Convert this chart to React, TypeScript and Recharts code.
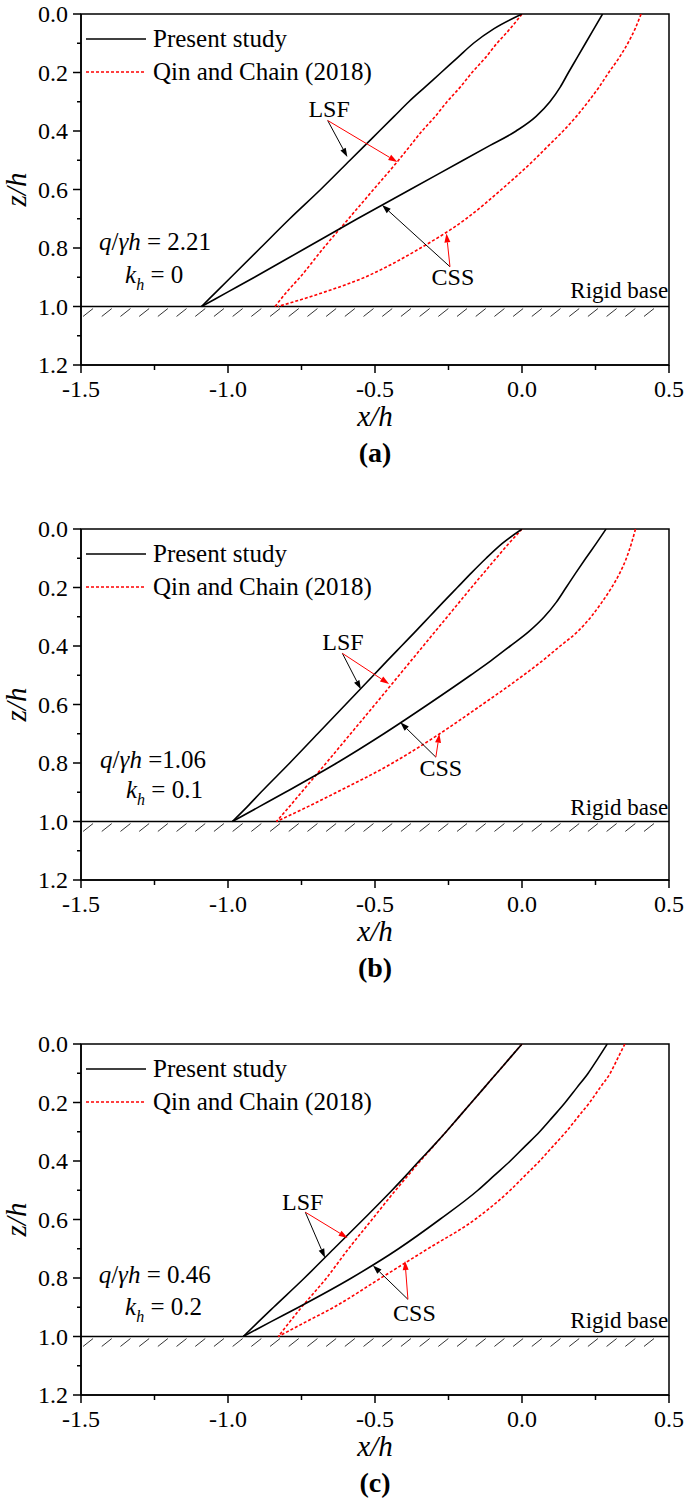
import React from 'react';
import { LineChart, Line, XAxis, YAxis, ReferenceLine, ReferenceDot, ReferenceArea, Legend } from 'recharts';

const SERIF = '"Liberation Serif", "Times New Roman", Times, serif';
const RED = '#ff0000';
const serifStyle = { fontFamily: SERIF };

// depth below the top of the wall (z/h), shared by every profile
const depth = [0, 0.05, 0.1, 0.15, 0.2, 0.25, 0.3, 0.35, 0.4, 0.45, 0.5, 0.6, 0.7, 0.8, 0.9, 0.95, 1.0];

// x/h of each failure surface, panel (a) kh = 0
const presentLsfA = [0, -0.095, -0.165, -0.22, -0.275, -0.33, -0.385, -0.435, -0.485, -0.535, -0.585, -0.685, -0.79, -0.89, -0.99, -1.04, -1.09];
const presentCssA = [0.274, 0.245, 0.216, 0.187, 0.158, 0.13, 0.095, 0.048, -0.02, -0.11, -0.2, -0.38, -0.56, -0.735, -0.91, -1.0, -1.09];
const qinLsfA = [0, -0.04, -0.085, -0.125, -0.17, -0.21, -0.255, -0.295, -0.34, -0.38, -0.42, -0.505, -0.59, -0.675, -0.755, -0.8, -0.84];
const qinCssA = [0.405, 0.385, 0.36, 0.33, 0.295, 0.262, 0.225, 0.185, 0.14, 0.09, 0.04, -0.07, -0.19, -0.345, -0.535, -0.67, -0.83];

// panel (b) kh = 0.1
const presentLsfB = [0, -0.068, -0.122, -0.172, -0.22, -0.268, -0.315, -0.362, -0.41, -0.458, -0.505, -0.6, -0.695, -0.79, -0.888, -0.935, -0.985];
const presentCssB = [0.286, 0.252, 0.217, 0.183, 0.15, 0.117, 0.076, 0.024, -0.04, -0.105, -0.175, -0.32, -0.47, -0.63, -0.805, -0.895, -0.985];
const qinLsfB = [0, -0.045, -0.088, -0.13, -0.172, -0.213, -0.254, -0.295, -0.336, -0.377, -0.418, -0.5, -0.583, -0.666, -0.75, -0.792, -0.835];
const qinCssB = [0.386, 0.372, 0.355, 0.333, 0.305, 0.272, 0.235, 0.19, 0.13, 0.07, 0.005, -0.135, -0.28, -0.44, -0.63, -0.73, -0.835];

// panel (c) kh = 0.2
const presentLsfC = [0, -0.043, -0.086, -0.129, -0.172, -0.215, -0.258, -0.303, -0.35, -0.395, -0.442, -0.54, -0.64, -0.74, -0.845, -0.897, -0.948];
const presentCssC = [0.29, 0.258, 0.225, 0.186, 0.147, 0.104, 0.06, 0.01, -0.04, -0.095, -0.15, -0.28, -0.42, -0.58, -0.76, -0.855, -0.948];
const qinLsfC = [0, -0.043, -0.086, -0.129, -0.172, -0.215, -0.258, -0.302, -0.346, -0.388, -0.43, -0.51, -0.59, -0.665, -0.75, -0.79, -0.829];
const qinCssC = [0.35, 0.325, 0.3, 0.265, 0.23, 0.19, 0.15, 0.105, 0.06, 0.01, -0.04, -0.16, -0.32, -0.48, -0.64, -0.735, -0.829];

const xTicks = [-1.5, -1.25, -1, -0.75, -0.5, -0.25, 0, 0.25, 0.5];
const zTicks = [0, 0.1, 0.2, 0.3, 0.4, 0.5, 0.6, 0.7, 0.8, 0.9, 1.0, 1.1, 1.2];

// hatching under the rigid base
const hatchStarts = Array.from({ length: 31 }, (_, i) => -1.493 + i * 0.0636);

const toPoints = (xs: number[]) => xs.map((x, i) => ({ x, z: depth[i] }));

type Pt = { x: number; z: number };
interface Panel {
  tag: string;
  ratio: string;
  kh: string;
  present: number[][];
  qin: number[][];
  lsfText: Pt; lsfFrom: Pt; lsfBlack: Pt; lsfRed: Pt;
  cssText: Pt; cssFrom: Pt; cssBlack: Pt; cssRed: Pt;
  ratioAt: Pt; khAt: Pt; baseAt: Pt;
}

const panels: Panel[] = [
  {
    tag: '(a)', ratio: ' = 2.21', kh: ' = 0',
    present: [presentLsfA, presentCssA], qin: [qinLsfA, qinCssA],
    lsfText: { x: -0.656, z: 0.352 }, lsfFrom: { x: -0.661, z: 0.364 },
    lsfBlack: { x: -0.594, z: 0.489 }, lsfRed: { x: -0.424, z: 0.506 },
    cssText: { x: -0.235, z: 0.926 }, cssFrom: { x: -0.245, z: 0.864 },
    cssBlack: { x: -0.476, z: 0.653 }, cssRed: { x: -0.257, z: 0.75 },
    ratioAt: { x: -1.439, z: 0.807 }, khAt: { x: -1.35, z: 0.92 }, baseAt: { x: 0.497, z: 0.971 },
  },
  {
    tag: '(b)', ratio: ' =1.06', kh: ' = 0.1',
    present: [presentLsfB, presentCssB], qin: [qinLsfB, qinCssB],
    lsfText: { x: -0.609, z: 0.414 }, lsfFrom: { x: -0.611, z: 0.425 },
    lsfBlack: { x: -0.548, z: 0.548 }, lsfRed: { x: -0.452, z: 0.53 },
    cssText: { x: -0.276, z: 0.843 }, cssFrom: { x: -0.293, z: 0.78 },
    cssBlack: { x: -0.414, z: 0.661 }, cssRed: { x: -0.281, z: 0.7 },
    ratioAt: { x: -1.435, z: 0.817 }, khAt: { x: -1.347, z: 0.92 }, baseAt: { x: 0.497, z: 0.978 },
  },
  {
    tag: '(c)', ratio: ' = 0.46', kh: ' = 0.2',
    present: [presentLsfC, presentCssC], qin: [qinLsfC, qinCssC],
    lsfText: { x: -0.746, z: 0.567 }, lsfFrom: { x: -0.737, z: 0.575 },
    lsfBlack: { x: -0.67, z: 0.731 }, lsfRed: { x: -0.593, z: 0.663 },
    cssText: { x: -0.366, z: 0.946 }, cssFrom: { x: -0.388, z: 0.873 },
    cssBlack: { x: -0.507, z: 0.757 }, cssRed: { x: -0.398, z: 0.742 },
    ratioAt: { x: -1.44, z: 0.818 }, khAt: { x: -1.35, z: 0.926 }, baseAt: { x: 0.497, z: 0.972 },
  },
];

const XTick = (p: any) => {
  const v = p.payload.value;
  const major = Math.round(v * 4) % 2 === 0;
  return (
    <g>
      <line x1={p.x} x2={p.x} y1={p.y} y2={p.y + (major ? 8 : 5)} stroke="#000" strokeWidth={1.5} />
      {major && (
        <text x={p.x} y={p.y + 32} textAnchor="middle" fontSize={24} style={serifStyle} fill="#000">
          {v.toFixed(1)}
        </text>
      )}
    </g>
  );
};

const YTick = (p: any) => {
  const v = p.payload.value;
  const major = Math.round(v * 10) % 2 === 0;
  return (
    <g>
      <line x1={p.x - (major ? 8 : 4)} x2={p.x} y1={p.y} y2={p.y} stroke="#000" strokeWidth={1.5} />
      {major && (
        <text x={p.x - 13} y={p.y} dy="0.34em" textAnchor="end" fontSize={24} style={serifStyle} fill="#000">
          {v.toFixed(1)}
        </text>
      )}
    </g>
  );
};

const arrow = (color: string) => (p: any) => {
  const { x1, y1, x2, y2 } = p;
  const a = Math.atan2(y2 - y1, x2 - x1);
  const len = 9;
  const half = 3;
  const bx = x2 - len * Math.cos(a);
  const by = y2 - len * Math.sin(a);
  const pts = `${x2},${y2} ${bx - half * Math.sin(a)},${by + half * Math.cos(a)} ${bx + half * Math.sin(a)},${by - half * Math.cos(a)}`;
  return (
    <g>
      <line x1={x1} y1={y1} x2={bx} y2={by} stroke={color} strokeWidth={1} />
      <polygon points={pts} fill={color} />
    </g>
  );
};

const textAt = (content: React.ReactNode, anchor: string = 'middle', size = 24) => (p: any) => (
  <text x={p.cx} y={p.cy} textAnchor={anchor} fontSize={size} fill="#000" style={{ fontFamily: SERIF, whiteSpace: 'pre' }}>
    {content}
  </text>
);

const legendItems = [
  { name: 'Present study', color: '#000', dash: undefined as string | undefined },
  { name: 'Qin and Chain (2018)', color: RED, dash: '3 2' },
];

const LegendBox = () => (
  <div style={{ fontFamily: SERIF, fontSize: 25, color: '#000' }}>
    {legendItems.map((it) => (
      <div key={it.name} style={{ display: 'flex', alignItems: 'center', height: 32.4, lineHeight: '32px', whiteSpace: 'nowrap' }}>
        <svg width={60} height={4} style={{ display: 'block' }}>
          <line x1={0} x2={60} y1={2} y2={2} stroke={it.color} strokeWidth={1.6} strokeDasharray={it.dash} />
        </svg>
        <span style={{ marginLeft: 7 }}>{it.name}</span>
      </div>
    ))}
  </div>
);

const PanelChart = ({ panel }: { panel: Panel }) => {
  const xLabel = (p: any) => {
    const vb = p.viewBox;
    const cx = vb.x + vb.width / 2;
    return (
      <g>
        <text x={cx} y={vb.y + 61} textAnchor="middle" fontSize={29} fontStyle="italic" style={serifStyle}>x/h</text>
        <text x={cx} y={vb.y + 97} textAnchor="middle" fontSize={28} fontWeight="bold" style={serifStyle}>{panel.tag}</text>
      </g>
    );
  };
  const yLabel = (p: any) => {
    const vb = p.viewBox;
    const cy = vb.y + vb.height / 2;
    const x = vb.x + 5;
    return (
      <text x={x} y={cy} transform={`rotate(-90 ${x} ${cy})`} textAnchor="middle" fontSize={29} fontStyle="italic" style={serifStyle}>z/h</text>
    );
  };

  return (
    <LineChart width={685} height={515} margin={{ top: 14, right: 16, bottom: 120, left: 21 }} style={serifStyle}>
      <XAxis
        type="number" dataKey="x" domain={[-1.5, 0.5]} ticks={xTicks} interval={0}
        allowDataOverflow height={30} tickSize={0} tickMargin={0} tick={<XTick />}
        axisLine={{ stroke: '#000', strokeWidth: 1.5 }} tickLine={false} label={xLabel}
      />
      <YAxis
        type="number" dataKey="z" domain={[0, 1.2]} reversed ticks={zTicks} interval={0}
        allowDataOverflow width={60} tickSize={0} tickMargin={0} tick={<YTick />}
        axisLine={{ stroke: '#000', strokeWidth: 1.5 }} tickLine={false} label={yLabel}
      />
      <ReferenceArea x1={-1.5} x2={0.5} y1={0} y2={1.2} fill="none" stroke="#000" strokeWidth={1.5} />
      <ReferenceLine y={1} stroke="#000" strokeWidth={1.5} />
      {hatchStarts.map((h) => (
        <ReferenceLine
          key={h}
          segment={[{ x: h, y: 1.034 }, { x: h + 0.034, y: 1.007 }]}
          stroke="#000" strokeWidth={0.8}
        />
      ))}
      {panel.qin.map((xs, i) => (
        <Line
          key={`q${i}`} data={toPoints(xs)} dataKey="z" type="monotone" stroke={RED}
          strokeWidth={1.6} strokeDasharray="3 2" dot={false} isAnimationActive={false}
        />
      ))}
      {panel.present.map((xs, i) => (
        <Line
          key={`p${i}`} data={toPoints(xs)} dataKey="z" type="monotone" stroke="#000"
          strokeWidth={1.6} dot={false} isAnimationActive={false}
        />
      ))}
      <ReferenceLine segment={[{ x: panel.lsfFrom.x, y: panel.lsfFrom.z }, { x: panel.lsfBlack.x, y: panel.lsfBlack.z }]} shape={arrow('#000')} />
      <ReferenceLine segment={[{ x: panel.lsfFrom.x, y: panel.lsfFrom.z }, { x: panel.lsfRed.x, y: panel.lsfRed.z }]} shape={arrow(RED)} />
      <ReferenceLine segment={[{ x: panel.cssFrom.x, y: panel.cssFrom.z }, { x: panel.cssBlack.x, y: panel.cssBlack.z }]} shape={arrow('#000')} />
      <ReferenceLine segment={[{ x: panel.cssFrom.x, y: panel.cssFrom.z }, { x: panel.cssRed.x, y: panel.cssRed.z }]} shape={arrow(RED)} />
      <ReferenceDot x={panel.lsfText.x} y={panel.lsfText.z} shape={textAt('LSF')} />
      <ReferenceDot x={panel.cssText.x} y={panel.cssText.z} shape={textAt('CSS')} />
      <ReferenceDot x={panel.baseAt.x} y={panel.baseAt.z} shape={textAt('Rigid base', 'end', 23)} />
      <ReferenceDot
        x={panel.ratioAt.x} y={panel.ratioAt.z}
        shape={textAt(
          <>
            <tspan fontStyle="italic">q</tspan>
            <tspan>/</tspan>
            <tspan fontStyle="italic">γh</tspan>
            <tspan>{panel.ratio}</tspan>
          </>,
          'start', 25,
        )}
      />
      <ReferenceDot
        x={panel.khAt.x} y={panel.khAt.z}
        shape={textAt(
          <>
            <tspan fontStyle="italic">k</tspan>
            <tspan fontStyle="italic" fontSize={16} dy={7}>h</tspan>
            <tspan dy={-7}>{panel.kh}</tspan>
          </>,
          'start', 25,
        )}
      />
      <Legend
        layout="vertical" align="center" verticalAlign="middle"
        wrapperStyle={{ left: 86, top: 23, width: 330, height: 66 }}
        content={() => <LegendBox />}
      />
    </LineChart>
  );
};

export default function App() {
  return (
    <div style={{ width: 685, background: '#fff', fontFamily: SERIF }}>
      <style>{'body{margin:0;background:#fff}'}</style>
      {panels.map((p) => (
        <PanelChart key={p.tag} panel={p} />
      ))}
    </div>
  );
}
